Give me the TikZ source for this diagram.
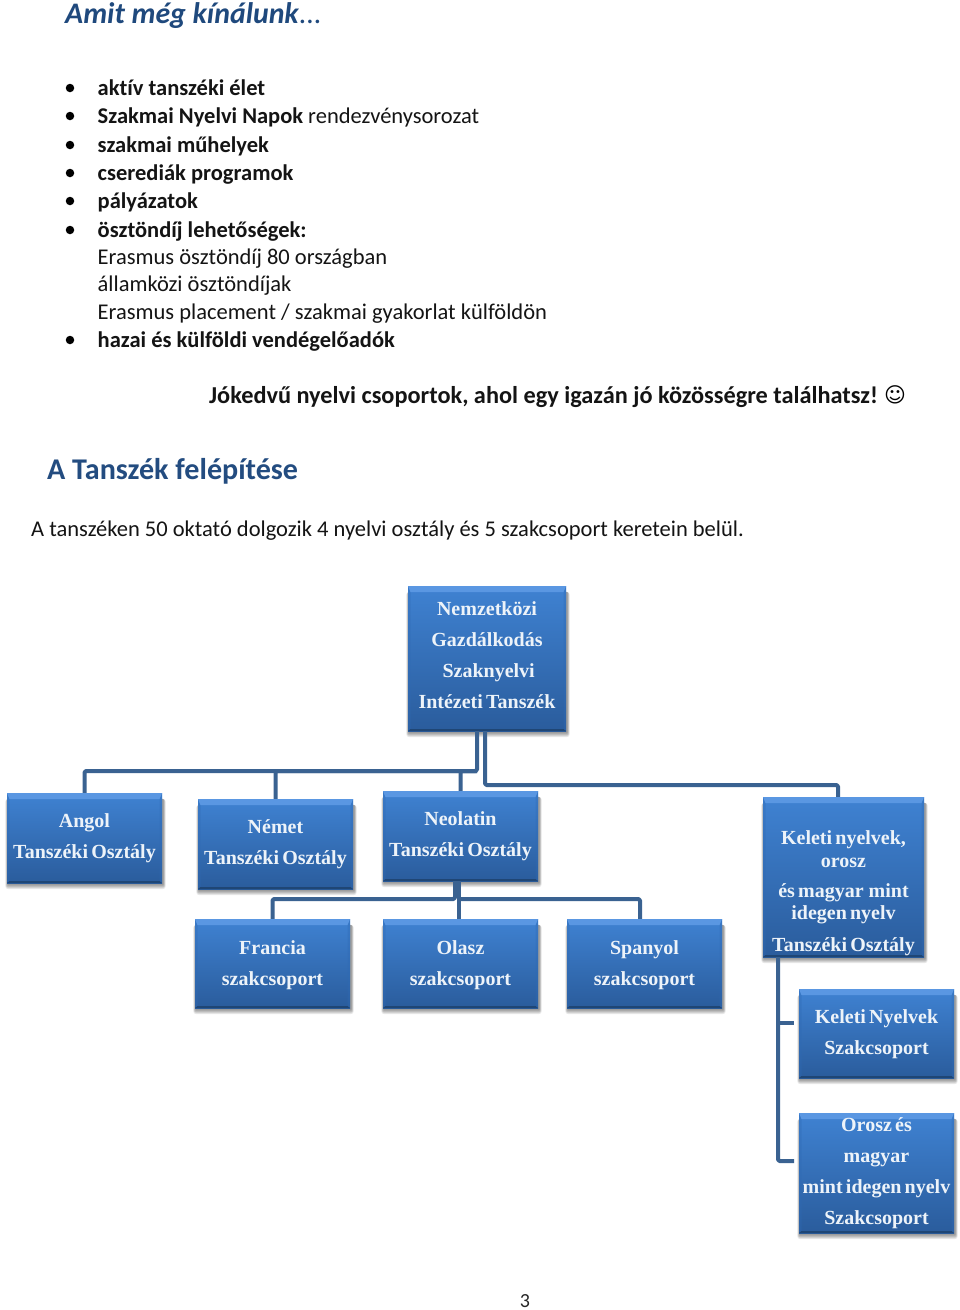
\documentclass[tikz,border=0pt]{standalone}
\usepackage{fontspec}
\setmainfont[Ligatures=NoCommon]{Carlito}
\newfontfamily\boxfont[WordSpace=0.65]{Liberation Serif}
\newfontfamily\smileyfont{DejaVu Sans}
\usetikzlibrary{calc}
\pgfdeclarelayer{bg}
\pgfsetlayers{bg,main}
\definecolor{lineblue}{HTML}{3A6291}
\definecolor{titleblue}{HTML}{1F497D}
\definecolor{headblue}{HTML}{234C80}
\definecolor{boxtop}{HTML}{3F82D2}
\definecolor{boxbottom}{HTML}{2A5C9C}
\definecolor{boxtext}{HTML}{EDF3F9}
\definecolor{bevtop}{HTML}{5A97E2}
\definecolor{bevbot}{HTML}{1F4675}
\definecolor{bevside}{HTML}{2F6AB4}
\newcommand\tdown[1]{\vrule width 0pt height #1pt\relax}
\newcommand\tup[1]{\vrule width 0pt depth #1pt\relax}
\tikzset{
  x=1pt,y=-1pt,
  boxstyle/.style={rectangle,inner sep=0pt,draw=none,
    top color=boxtop,bottom color=boxbottom,
    align=center,text=boxtext,
    font=\boxfont\bfseries\fontsize{20}{31}\selectfont,
    path picture={
      \fill[bevside,opacity=.35] (path picture bounding box.north west) -- ([shift={(2.5pt,-6pt)}]path picture bounding box.north west)
        -- ([shift={(2.5pt,2pt)}]path picture bounding box.south west) -- (path picture bounding box.south west) -- cycle;
      \fill[bevside,opacity=.35] (path picture bounding box.north east) -- ([shift={(-2.5pt,-6pt)}]path picture bounding box.north east)
        -- ([shift={(-2.5pt,2pt)}]path picture bounding box.south east) -- (path picture bounding box.south east) -- cycle;
      \fill[bevtop] (path picture bounding box.north west) -- (path picture bounding box.north east)
        -- ([shift={(-2.5pt,-6pt)}]path picture bounding box.north east) -- ([shift={(2.5pt,-6pt)}]path picture bounding box.north west) -- cycle;
      \fill[bevbot] (path picture bounding box.south west) -- (path picture bounding box.south east)
        -- ([shift={(-2.5pt,2pt)}]path picture bounding box.south east) -- ([shift={(2.5pt,2pt)}]path picture bounding box.south west) -- cycle;
    }},
  softshadow/.style={fill=black,opacity=.09,draw=none,rounded corners=#1},
  conn/.style={draw=lineblue,line width=4pt,line join=round,rounded corners=1.5pt},
  body/.style={anchor=base west,inner sep=0pt,font=\fontsize{22.5}{27}\selectfont,text=black!92},
  bul/.style={circle,fill=black,inner sep=0pt,minimum size=8.5pt,draw=none},
}
\begin{document}
\begin{tikzpicture}
\useasboundingbox (0,0) rectangle (960,1310);
\begin{pgfonlayer}{bg}
\fill[white] (0,0) rectangle (960,1310);
\end{pgfonlayer}
% header text
\node[anchor=base west,inner sep=0pt,text=titleblue,font=\fontsize{29.8}{36}\selectfont] (title) at (65,23) {\textbf{\textit{Amit még kínálunk}}\textit{...}};
\foreach \n/\y in {a/88,b/116,c/145,d/173,e/201,f/230,g/340}{
  \node[bul] (dot\n) at (70,\y) {};
}
\node[body] (l1) at (97.5,95) {\textbf{aktív tanszéki élet}};
\node[body] (l2) at (97.5,123.5) {\textbf{Szakmai Nyelvi Napok} rendezvénysorozat};
\node[body] (l3) at (97.5,152) {\textbf{szakmai műhelyek}};
\node[body] (l4) at (97.5,180) {\textbf{cserediák programok}};
\node[body] (l5) at (97.5,208.5) {\textbf{pályázatok}};
\node[body] (l6) at (97.5,237) {\textbf{ösztöndíj lehetőségek:}};
\node[body] (l7) at (97.5,264) {Erasmus ösztöndíj 80 országban};
\node[body] (l8) at (97.5,291.5) {államközi ösztöndíjak};
\node[body] (l9) at (97.5,319) {Erasmus placement / szakmai gyakorlat külföldön};
\node[body] (l10) at (97.5,347) {\textbf{hazai és külföldi vendégelőadók}};
\node[body,font=\fontsize{24.3}{29}\selectfont] (l11) at (209,403) {\textbf{Jókedvű nyelvi csoportok, ahol egy igazán jó közösségre találhatsz!}};
\node[anchor=base west,inner sep=0pt,font=\smileyfont\fontsize{21}{26}\selectfont] (smile) at (884,402) {☺};
\node[anchor=base west,inner sep=0pt,text=headblue,font=\bfseries\fontsize{30.1}{35}\selectfont] (head) at (47,479) {A Tanszék felépítése};
\node[body] (intro) at (31,536) {A tanszéken 50 oktató dolgozik 4 nyelvi osztály és 5 szakcsoport keretein belül.};
% boxes
\node[boxstyle,minimum width=158pt,minimum height=145pt] (root) at (487,658.5) {Nemzetközi\\Gazdálkodás\\\,Szaknyelvi\\Intézeti Tanszék\tup{6}};
\node[boxstyle,minimum width=155pt,minimum height=90pt] (angol) at (84.5,838) {\tdown{15}Angol\\Tanszéki Osztály};
\node[boxstyle,minimum width=155pt,minimum height=90pt] (nemet) at (275.5,844) {Német\\Tanszéki Osztály};
\node[boxstyle,minimum width=155pt,minimum height=90pt] (neo) at (460.5,836) {\tdown{15}Neolatin\\Tanszéki Osztály};
\node[boxstyle,minimum width=161pt,minimum height=160pt] (keleti) at (843.5,877) {\tdown{47}Keleti nyelvek,\\[-8pt]orosz\\[-1pt]és magyar\hspace{5pt}mint\\[-9pt]idegen nyelv\\[1pt]Tanszéki Osztály};
\node[boxstyle,minimum width=155pt,minimum height=89pt] (francia) at (272.5,963.5) {\tdown{17}Francia\\szakcsoport};
\node[boxstyle,minimum width=155pt,minimum height=89pt] (olasz) at (460.5,963.5) {\tdown{17}Olasz\\szakcsoport};
\node[boxstyle,minimum width=155pt,minimum height=89pt] (spanyol) at (644.5,963.5) {\tdown{17}Spanyol\\szakcsoport};
\node[boxstyle,minimum width=155pt,minimum height=89pt] (kny) at (876.5,1033.5) {\tdown{15}Keleti Nyelvek\\Szakcsoport};
\node[boxstyle,minimum width=155pt,minimum height=120pt] (orosz) at (876.5,1173) {\tdown{15}Orosz és\\magyar\\mint idegen nyelv\\Szakcsoport};
% soft shadows
\begin{pgfonlayer}{bg}
\foreach \b in {root,angol,nemet,neo,keleti,francia,olasz,spanyol,kny,orosz}{
  \foreach \d/\s/\r in {5/2.5/3pt,4/2/3pt,3/1.5/2pt,2/1/2pt,1/.5/1pt}{
    \fill[softshadow=\r] ([shift={(-\s pt+1pt,-6pt)}]\b.north west) rectangle ([shift={(\s pt+1pt,-\d pt-1pt)}]\b.south east);
  }
}
\end{pgfonlayer}
% connectors
\coordinate (busA) at (477,771);
\coordinate (busB) at (485,785);
\coordinate (busC) at (455,899);
\coordinate (busD) at (459,899);
\coordinate (busE) at (778,1023);
\coordinate (busF) at (778,1161);
\coordinate (endE) at (794,1023);
\coordinate (endF) at (794,1161);
\draw[conn] ([xshift=-10pt]root.south) -- (busA) -| (angol.north);
\draw[conn] (busA) -| (nemet.north);
\draw[conn] (busA) -| (neo.north);
\draw[conn] ([xshift=-2pt]root.south) -- (busB) -| ([xshift=-5.5pt]keleti.north);
\draw[conn] ([xshift=-5.5pt]neo.south) -- (busC) -| (francia.north);
\draw[conn] ([xshift=-1.5pt]neo.south) -- ([xshift=-1.5pt]olasz.north);
\draw[conn] (busD) -| ([xshift=-4.5pt]spanyol.north);
\draw[conn] ([xshift=-65.5pt]keleti.south) -- (busF) -- (endF);
\draw[conn] (busE) -- (endE);
% page number
\node[anchor=base,inner sep=0pt,font=\fontsize{20}{24}\selectfont,text=black!85] (page) at (525,1307.5) {3};
\end{tikzpicture}
\end{document}
